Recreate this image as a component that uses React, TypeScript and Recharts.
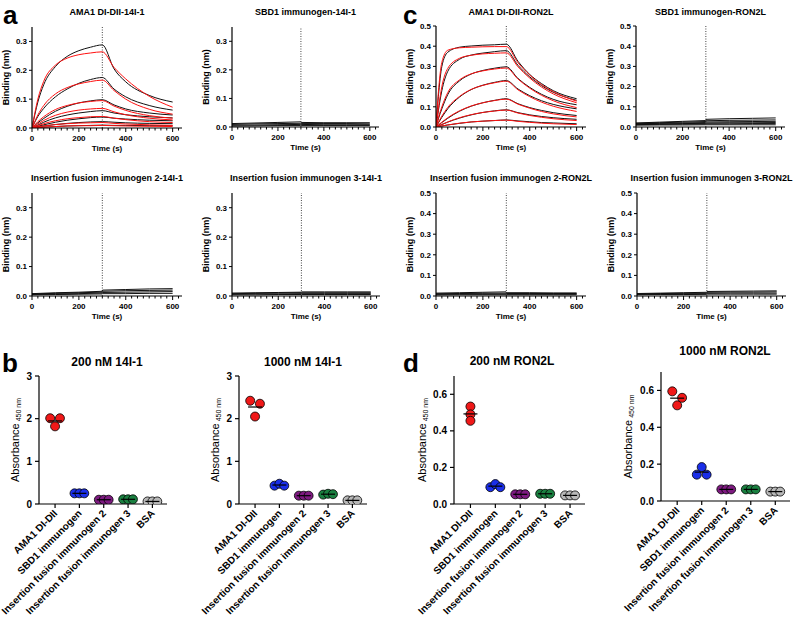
import React from 'react';
import { LineChart, Line, XAxis, YAxis, ReferenceLine, ScatterChart, Scatter } from 'recharts';

const FONT = '"Liberation Sans", Arial, Helvetica, sans-serif';

// ---------- BLI sensorgrams (panels a and c) ----------
const TIME_TICKS = [0, 25, 50, 75, 100, 125, 150, 175, 200, 225, 250, 275, 300, 325, 350, 375, 400, 425, 450, 475, 500, 525, 550, 575, 600, 625];
const TICKS_14I1 = [0, 0.1, 0.2, 0.3];
const TICKS_RON2L = [0, 0.1, 0.2, 0.3, 0.4, 0.5];

const TIMES_A1 = [0, 25, 50, 100, 150, 200, 250, 300, 350, 400, 500, 600];
const A1_DATA = [
  [0, 0.09, 0.15, 0.213, 0.248, 0.268, 0.28, 0.288, 0.205, 0.16, 0.113, 0.09],
  [0, 0.04, 0.068, 0.108, 0.135, 0.155, 0.168, 0.175, 0.135, 0.108, 0.078, 0.062],
  [0, 0.018, 0.033, 0.058, 0.075, 0.087, 0.094, 0.098, 0.08, 0.066, 0.052, 0.045],
  [0, 0.01, 0.02, 0.035, 0.045, 0.052, 0.057, 0.06, 0.052, 0.046, 0.039, 0.035],
  [0, 0.006, 0.011, 0.02, 0.027, 0.032, 0.036, 0.038, 0.034, 0.031, 0.027, 0.025],
  [0, 0.004, 0.007, 0.012, 0.016, 0.019, 0.021, 0.022, 0.02, 0.018, 0.016, 0.015],
  [0, 0.002, 0.003, 0.005, 0.007, 0.008, 0.009, 0.01, 0.009, 0.009, 0.008, 0.008],
];
const A1_FIT = [
  [0, 0.1, 0.162, 0.218, 0.242, 0.254, 0.26, 0.264, 0.21, 0.17, 0.11, 0.072],
  [0, 0.045, 0.078, 0.118, 0.14, 0.153, 0.161, 0.166, 0.13, 0.1, 0.065, 0.048],
  [0, 0.022, 0.039, 0.064, 0.078, 0.087, 0.092, 0.095, 0.076, 0.061, 0.043, 0.034],
  [0, 0.014, 0.026, 0.044, 0.055, 0.062, 0.066, 0.068, 0.056, 0.046, 0.034, 0.028],
  [0, 0.008, 0.015, 0.025, 0.032, 0.036, 0.039, 0.04, 0.034, 0.029, 0.022, 0.019],
  [0, 0.004, 0.007, 0.012, 0.015, 0.017, 0.018, 0.019, 0.016, 0.014, 0.011, 0.009],
  [0, 0.002, 0.003, 0.005, 0.007, 0.008, 0.008, 0.009, 0.008, 0.007, 0.006, 0.005],
];

const TIMES_C1 = [0, 10, 25, 50, 100, 150, 200, 250, 300, 350, 400, 450, 500, 600];
const C1_DATA = [
  [0, 0.15, 0.3, 0.37, 0.395, 0.401, 0.405, 0.407, 0.41, 0.325, 0.26, 0.215, 0.18, 0.14],
  [0, 0.08, 0.18, 0.275, 0.335, 0.356, 0.366, 0.373, 0.378, 0.305, 0.248, 0.205, 0.172, 0.132],
  [0, 0.04, 0.09, 0.16, 0.228, 0.262, 0.28, 0.291, 0.298, 0.24, 0.196, 0.162, 0.137, 0.11],
  [0, 0.02, 0.048, 0.09, 0.148, 0.185, 0.207, 0.221, 0.23, 0.188, 0.155, 0.13, 0.112, 0.09],
  [0, 0.009, 0.022, 0.043, 0.078, 0.103, 0.12, 0.132, 0.14, 0.115, 0.096, 0.082, 0.071, 0.057],
  [0, 0.005, 0.012, 0.024, 0.044, 0.06, 0.072, 0.08, 0.085, 0.071, 0.06, 0.052, 0.046, 0.038],
  [0, 0.002, 0.005, 0.01, 0.018, 0.025, 0.029, 0.032, 0.035, 0.03, 0.026, 0.022, 0.02, 0.016],
];
const C1_FIT = [
  [0, 0.17, 0.32, 0.38, 0.392, 0.395, 0.397, 0.398, 0.398, 0.318, 0.257, 0.21, 0.175, 0.128],
  [0, 0.09, 0.2, 0.29, 0.34, 0.355, 0.362, 0.365, 0.367, 0.298, 0.242, 0.198, 0.164, 0.12],
  [0, 0.045, 0.1, 0.17, 0.233, 0.263, 0.278, 0.287, 0.292, 0.237, 0.192, 0.157, 0.13, 0.096],
  [0, 0.023, 0.054, 0.097, 0.151, 0.186, 0.206, 0.219, 0.227, 0.184, 0.15, 0.123, 0.103, 0.077],
  [0, 0.01, 0.024, 0.046, 0.08, 0.104, 0.12, 0.131, 0.138, 0.113, 0.093, 0.077, 0.065, 0.05],
  [0, 0.005, 0.013, 0.025, 0.046, 0.061, 0.072, 0.079, 0.084, 0.069, 0.057, 0.048, 0.041, 0.032],
  [0, 0.002, 0.005, 0.01, 0.019, 0.025, 0.029, 0.032, 0.034, 0.028, 0.023, 0.019, 0.016, 0.012],
];

// non-binding sensorgrams
const TIMES_FLAT = [0, 100, 200, 299, 301, 400, 500, 600];
const A2_DATA = [
  [0.012, 0.014, 0.016, 0.018, 0.016, 0.015, 0.015, 0.015],
  [0.009, 0.011, 0.012, 0.013, 0.012, 0.012, 0.012, 0.011],
  [0.006, 0.007, 0.008, 0.009, 0.009, 0.008, 0.008, 0.008],
  [0.003, 0.004, 0.005, 0.005, 0.005, 0.005, 0.005, 0.005],
];
const A3_DATA = [
  [0.008, 0.011, 0.013, 0.016, 0.02, 0.022, 0.024, 0.025],
  [0.007, 0.009, 0.011, 0.013, 0.016, 0.018, 0.019, 0.02],
  [0.005, 0.007, 0.008, 0.01, 0.012, 0.013, 0.014, 0.015],
  [0.004, 0.005, 0.006, 0.007, 0.008, 0.008, 0.009, 0.009],
];
const A4_DATA = [
  [0.01, 0.011, 0.012, 0.013, 0.014, 0.014, 0.014, 0.014],
  [0.008, 0.009, 0.01, 0.011, 0.011, 0.011, 0.011, 0.011],
  [0.006, 0.007, 0.007, 0.008, 0.008, 0.008, 0.008, 0.008],
  [0.004, 0.004, 0.005, 0.005, 0.005, 0.005, 0.005, 0.005],
];
const C2_DATA = [
  [0.02, 0.024, 0.028, 0.032, 0.038, 0.041, 0.043, 0.045],
  [0.018, 0.021, 0.024, 0.027, 0.031, 0.033, 0.034, 0.035],
  [0.016, 0.018, 0.02, 0.022, 0.025, 0.026, 0.027, 0.028],
  [0.014, 0.015, 0.017, 0.018, 0.02, 0.021, 0.021, 0.022],
  [0.012, 0.013, 0.014, 0.015, 0.016, 0.016, 0.017, 0.017],
  [0.009, 0.01, 0.01, 0.011, 0.011, 0.011, 0.011, 0.011],
];
const C3_DATA = [
  [0.014, 0.016, 0.018, 0.02, 0.016, 0.016, 0.015, 0.015],
  [0.011, 0.012, 0.013, 0.014, 0.012, 0.012, 0.012, 0.012],
  [0.008, 0.009, 0.009, 0.01, 0.009, 0.009, 0.009, 0.009],
  [0.005, 0.006, 0.006, 0.006, 0.006, 0.006, 0.006, 0.006],
];
const C4_DATA = [
  [0.012, 0.014, 0.016, 0.018, 0.022, 0.023, 0.024, 0.025],
  [0.01, 0.012, 0.013, 0.014, 0.018, 0.019, 0.019, 0.02],
  [0.008, 0.009, 0.01, 0.011, 0.013, 0.014, 0.014, 0.014],
  [0.006, 0.007, 0.007, 0.008, 0.009, 0.009, 0.009, 0.009],
];

// ---------- ELISA (panels b and d) ----------
const CATEGORIES = ['AMA1 DI-DII', 'SBD1 immunogen', 'Insertion fusion immunogen 2', 'Insertion fusion immunogen 3', 'BSA'];
const B1_VALUES = [[2.01, 1.82, 2.01], [0.25, 0.25, 0.25], [0.1, 0.1, 0.1], [0.11, 0.11, 0.11], [0.06, 0.06, 0.06]];
const B2_VALUES = [[2.42, 2.05, 2.35], [0.43, 0.475, 0.43], [0.195, 0.195, 0.195], [0.22, 0.24, 0.23], [0.085, 0.085, 0.085]];
const D1_VALUES = [[0.533, 0.49, 0.455], [0.092, 0.109, 0.092], [0.053, 0.053, 0.053], [0.056, 0.056, 0.056], [0.047, 0.047, 0.047]];
const D2_VALUES = [[0.595, 0.519, 0.56], [0.143, 0.184, 0.143], [0.063, 0.063, 0.063], [0.063, 0.063, 0.063], [0.051, 0.051, 0.051]];
const TICKS_B = [0, 1, 2, 3];
const TICKS_D = [0, 0.2, 0.4, 0.6];

const DOT_COLORS = ['#f01818', '#1a2ee8', '#7d1a80', '#1a8040', '#b8b8b8'];
const DOT_SPREAD = [-0.2, 0, 0.2];

type KinPanel = {
  title: string; x0: number; xRight: number; yTop: number; yBottom: number;
  yMax: number; yTicks: number[]; times: number[]; black: number[][]; fit?: number[][];
  titleY: number;
};

const KIN_PANELS: KinPanel[] = [
  { title: 'AMA1 DI-DII-14I-1', x0: 32, xRight: 182, yTop: 27, yBottom: 128, yMax: 0.35, yTicks: TICKS_14I1, times: TIMES_A1, black: A1_DATA, fit: A1_FIT, titleY: 14.5 },
  { title: 'SBD1 immunogen-14I-1', x0: 232, xRight: 379, yTop: 27, yBottom: 127, yMax: 0.35, yTicks: TICKS_14I1, times: TIMES_FLAT, black: A2_DATA, titleY: 14.5 },
  { title: 'AMA1 DI-DII-RON2L', x0: 436, xRight: 586, yTop: 26, yBottom: 127, yMax: 0.5, yTicks: TICKS_RON2L, times: TIMES_C1, black: C1_DATA, fit: C1_FIT, titleY: 14.5 },
  { title: 'SBD1 immunogen-RON2L', x0: 636, xRight: 785, yTop: 26, yBottom: 127, yMax: 0.5, yTicks: TICKS_RON2L, times: TIMES_FLAT, black: C2_DATA, titleY: 14.5 },
  { title: 'Insertion fusion immunogen 2-14I-1', x0: 32, xRight: 182, yTop: 193, yBottom: 296, yMax: 0.35, yTicks: TICKS_14I1, times: TIMES_FLAT, black: A3_DATA, titleY: 181 },
  { title: 'Insertion fusion immunogen 3-14I-1', x0: 232, xRight: 380, yTop: 193, yBottom: 296, yMax: 0.35, yTicks: TICKS_14I1, times: TIMES_FLAT, black: A4_DATA, titleY: 181 },
  { title: 'Insertion fusion immunogen 2-RON2L', x0: 436, xRight: 586, yTop: 193, yBottom: 296, yMax: 0.5, yTicks: TICKS_RON2L, times: TIMES_FLAT, black: C3_DATA, titleY: 181 },
  { title: 'Insertion fusion immunogen 3-RON2L', x0: 637, xRight: 786, yTop: 193, yBottom: 296, yMax: 0.5, yTicks: TICKS_RON2L, times: TIMES_FLAT, black: C4_DATA, titleY: 181 },
];

type ElisaPanelCfg = {
  title: string; values: number[][]; x0: number; xRight: number; yTop: number; yBottom: number;
  yMax: number; yTicks: number[]; decimals: number; titleX: number; titleY: number; labelDx: number;
  stacked: number[];
};

const ELISA_PANELS: ElisaPanelCfg[] = [
  { title: '200 nM 14I-1', values: B1_VALUES, x0: 39, xRight: 167, yTop: 376, yBottom: 504, yMax: 3, yTicks: TICKS_B, decimals: 0, titleX: 107, titleY: 366, labelDx: 24, stacked: [] },
  { title: '1000 nM 14I-1', values: B2_VALUES, x0: 239, xRight: 367, yTop: 376, yBottom: 504, yMax: 3, yTicks: TICKS_B, decimals: 0, titleX: 303, titleY: 366, labelDx: 24, stacked: [] },
  { title: '200 nM RON2L', values: D1_VALUES, x0: 454, xRight: 585, yTop: 376, yBottom: 504, yMax: 0.7, yTicks: TICKS_D, decimals: 1, titleX: 512, titleY: 365, labelDx: 32, stacked: [0] },
  { title: '1000 nM RON2L', values: D2_VALUES, x0: 661, xRight: 790, yTop: 372, yBottom: 501, yMax: 0.7, yTicks: TICKS_D, decimals: 1, titleX: 725, titleY: 355, labelDx: 33, stacked: [] },
];

const PANEL_LETTERS = [
  { t: 'a', x: 3, y: 23.5 },
  { t: 'c', x: 403, y: 23.5 },
  { t: 'b', x: 2, y: 372 },
  { t: 'd', x: 403, y: 372 },
];

// ---------- shared bits ----------
function TimeTick(props: any) {
  const { x, y, payload } = props;
  const major = payload.value % 200 === 0;
  return (
    <g>
      <line x1={x} x2={x} y1={y} y2={y + (major ? 4 : 2.5)} stroke="#000" strokeWidth={1} />
      {major && (
        <text x={x} y={y + 12.5} textAnchor="middle" fontSize={8} fontWeight={700} fill="#000">
          {payload.value}
        </text>
      )}
    </g>
  );
}

function CatTick(props: any) {
  const { x, y, payload } = props;
  const tx = x + 3;
  const ty = y + 10;
  return (
    <g>
      <line x1={x} x2={x} y1={y} y2={y + 4} stroke="#000" strokeWidth={1.2} />
      <text x={tx} y={ty} textAnchor="end" transform={`rotate(-45 ${tx} ${ty})`} fontSize={10} fontWeight={700} fill="#000">
        {CATEGORIES[payload.value]}
      </text>
    </g>
  );
}

const yTitle = (text: string, dx: number, size: number, weight: number, sub?: string) => (props: any) => {
  const vb = props.viewBox || { x: 0, y: 0, width: 0, height: 0 };
  const cx = vb.x + vb.width - dx;
  const cy = vb.y + vb.height / 2;
  return (
    <text x={cx} y={cy} transform={`rotate(-90 ${cx} ${cy})`} textAnchor="middle" dominantBaseline="central"
      fontSize={size} fontWeight={weight} fill="#000">
      {text}
      {sub ? <tspan fontSize={7} dy={3}>{' ' + sub}</tspan> : null}
    </text>
  );
};

const xTitle = (text: string) => (props: any) => {
  const vb = props.viewBox || { x: 0, y: 0, width: 0, height: 0 };
  return (
    <text x={vb.x + vb.width / 2} y={vb.y + 23} textAnchor="middle" fontSize={8} fontWeight={700} fill="#000">
      {text}
    </text>
  );
};

function KineticPanel({ p }: { p: KinPanel }) {
  const left = p.x0 - 40;
  const top = p.yTop - 5;
  const width = p.xRight - left + 10;
  const height = p.yBottom - top + 30;
  const rows = p.times.map((t, i) => {
    const row: Record<string, number> = { t };
    p.black.forEach((s, k) => { row['b' + k] = s[i]; });
    (p.fit || []).forEach((s, k) => { row['r' + k] = s[i]; });
    return row;
  });
  const smooth = p.fit ? 'monotone' : 'linear';
  return (
    <div style={{ position: 'absolute', left, top }}>
      <LineChart width={width} height={height} data={rows} margin={{ top: 5, right: 10, bottom: 0, left: 4 }}>
        <XAxis dataKey="t" type="number" domain={[0, 640]} ticks={TIME_TICKS} interval={0}
          tick={<TimeTick />} tickLine={false} tickSize={0} tickMargin={0}
          axisLine={{ stroke: '#000', strokeWidth: 1.2 }} height={30} label={xTitle('Time (s)')} allowDataOverflow />
        <YAxis type="number" domain={[0, p.yMax]} ticks={p.yTicks} interval={0} width={36}
          tickSize={3} tickMargin={2} tick={{ fill: '#000', fontSize: 8, fontWeight: 700 }}
          tickFormatter={(v: number) => v.toFixed(1)} axisLine={{ stroke: '#000', strokeWidth: 1.2 }}
          tickLine={{ stroke: '#000' }} label={yTitle('Binding (nm)', 26, 9, 700)} allowDataOverflow />
        <ReferenceLine x={300} stroke="#444" strokeDasharray="1 1.5" strokeWidth={1} />
        {p.black.map((_, k) => (
          <Line key={'b' + k} dataKey={'b' + k} type={smooth} stroke="#111" strokeWidth={1} dot={false} isAnimationActive={false} />
        ))}
        {(p.fit || []).map((_, k) => (
          <Line key={'r' + k} dataKey={'r' + k} type="monotone" stroke="#ff1010" strokeWidth={1} dot={false} isAnimationActive={false} />
        ))}
      </LineChart>
    </div>
  );
}

const dotShape = (color: string) => (props: any) => (
  <circle cx={props.cx} cy={props.cy} r={4.5} fill={color} stroke="#000" strokeWidth={0.8} />
);
const meanShape = (props: any) => (
  <line x1={props.cx - 7} x2={props.cx + 7} y1={props.cy} y2={props.cy} stroke="#000" strokeWidth={1.2} />
);

function ElisaPanel({ p }: { p: ElisaPanelCfg }) {
  const left = p.x0 - 44;
  const top = p.yTop - 5;
  const width = p.xRight - left + 12;
  const height = 619 - top;
  const xAxisH = height - 5 - (p.yBottom - p.yTop);
  const means = p.values.map((vals, g) => ({ x: g, y: vals.reduce((a, b) => a + b, 0) / vals.length }));
  return (
    <div style={{ position: 'absolute', left, top }}>
      <ScatterChart width={width} height={height} margin={{ top: 5, right: 12, bottom: 0, left: 4 }}>
        <XAxis type="number" dataKey="x" domain={[-0.66, 4.6]} ticks={[0, 1, 2, 3, 4]} interval={0}
          tick={<CatTick />} tickLine={false} tickSize={0} tickMargin={0}
          axisLine={{ stroke: '#000', strokeWidth: 1.2 }} height={xAxisH} allowDataOverflow />
        <YAxis type="number" dataKey="y" domain={[0, p.yMax]} ticks={p.yTicks} interval={0} width={40}
          tickSize={4} tickMargin={3} tick={{ fill: '#000', fontSize: 10, fontWeight: 700 }}
          tickFormatter={(v: number) => v.toFixed(p.decimals)} axisLine={{ stroke: '#000', strokeWidth: 1.2 }}
          tickLine={{ stroke: '#000', strokeWidth: 1.2 }}
          label={yTitle('Absorbance', p.labelDx, 11, 400, '450 nm')} allowDataOverflow />
        {p.values.map((vals, g) => (
          <Scatter key={g}
            data={vals.map((v, j) => ({ x: g + (p.stacked.includes(g) ? 0 : DOT_SPREAD[j]), y: v }))}
            shape={dotShape(DOT_COLORS[g])} isAnimationActive={false} />
        ))}
        <Scatter data={means} shape={meanShape} isAnimationActive={false} />
      </ScatterChart>
    </div>
  );
}

export default function App() {
  return (
    <div style={{ position: 'relative', width: 800, height: 619, background: '#fff', fontFamily: FONT, overflow: 'hidden' }}>
      <style>{'body{margin:0}'}</style>
      {KIN_PANELS.map((p) => <KineticPanel key={p.title} p={p} />)}
      {ELISA_PANELS.map((p) => <ElisaPanel key={p.title} p={p} />)}
      <svg width={800} height={619} style={{ position: 'absolute', left: 0, top: 0, pointerEvents: 'none' }}>
        {KIN_PANELS.map((p) => (
          <text key={p.title} x={(p.x0 + p.xRight) / 2} y={p.titleY} textAnchor="middle" fontSize={9} fontWeight={700} fill="#000">
            {p.title}
          </text>
        ))}
        {ELISA_PANELS.map((p) => (
          <text key={p.title} x={p.titleX} y={p.titleY} textAnchor="middle" fontSize={12} fontWeight={700} fill="#000">
            {p.title}
          </text>
        ))}
        {PANEL_LETTERS.map((l) => (
          <text key={l.t} x={l.x} y={l.y} fontSize={26} fontWeight={700} fill="#000">{l.t}</text>
        ))}
      </svg>
    </div>
  );
}
